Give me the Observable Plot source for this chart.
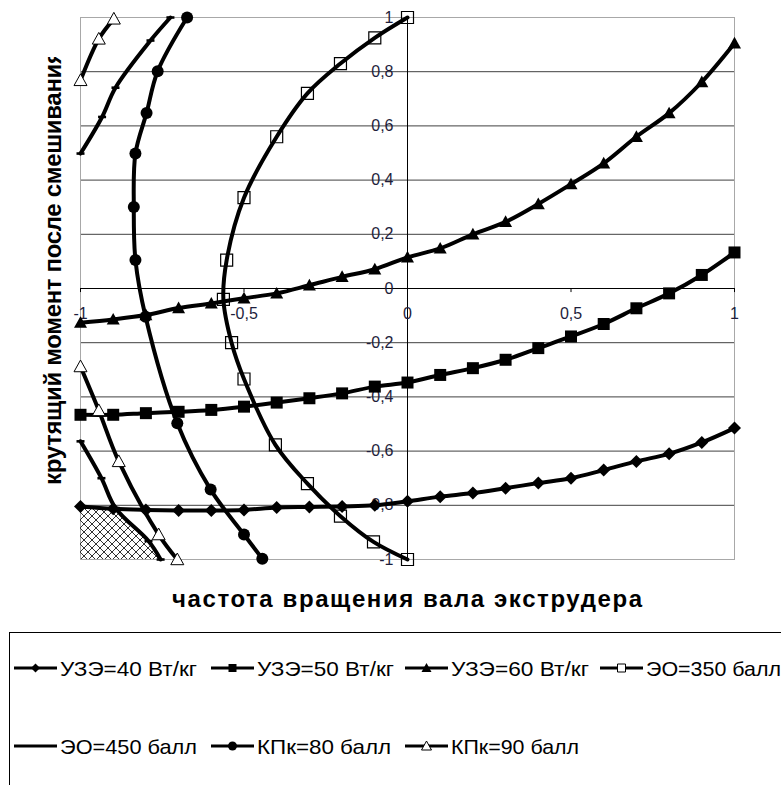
<!DOCTYPE html>
<html><head><meta charset="utf-8">
<script src="https://cdn.jsdelivr.net/npm/d3@7"></script>
<script src="https://cdn.jsdelivr.net/npm/@observablehq/plot@0.6"></script>
<style>
body{margin:0;background:#fff;}
#wrap{position:relative;width:781px;height:785px;overflow:hidden;font-family:"Liberation Sans",Arial,sans-serif;background:#fff;}
#wrap svg{position:absolute;left:0;top:0;}
</style></head><body><div id="wrap"></div>
<script>
// ---- data ----
const xValues = [-1,-0.9,-0.8,-0.7,-0.6,-0.5,-0.4,-0.3,-0.2,-0.1,0,0.1,0.2,0.3,0.4,0.5,0.6,0.7,0.8,0.9,1];
const uze40 = [-0.804,-0.813,-0.817,-0.819,-0.819,-0.817,-0.808,-0.806,-0.804,-0.800,-0.785,-0.768,-0.755,-0.737,-0.718,-0.700,-0.670,-0.638,-0.610,-0.568,-0.515];
const uze50 = [-0.466,-0.466,-0.460,-0.455,-0.448,-0.436,-0.421,-0.405,-0.387,-0.362,-0.347,-0.319,-0.294,-0.263,-0.220,-0.177,-0.131,-0.073,-0.018,0.050,0.133];
const uze60 = [-0.126,-0.114,-0.098,-0.072,-0.055,-0.036,-0.018,0.012,0.043,0.071,0.115,0.148,0.200,0.246,0.312,0.385,0.462,0.560,0.647,0.762,0.905];

const eo350X = [0,-0.1,-0.205,-0.306,-0.40,-0.50,-0.553,-0.563,-0.538,-0.50,-0.404,-0.306,-0.205,-0.104,0];
const eo350Y = [1,0.925,0.83,0.72,0.56,0.335,0.105,-0.04,-0.20,-0.334,-0.577,-0.72,-0.84,-0.935,-1];

const eo450UpX = [-0.725,-0.786,-0.893,-0.934,-1.0];
const eo450UpY = [1.0,0.915,0.741,0.633,0.498];
const eo450LoX = [-1.0,-0.936,-0.893,-0.792,-0.755];
const eo450LoY = [-0.564,-0.70,-0.81,-0.932,-1.0];

const kpk80X = [-0.674,-0.764,-0.798,-0.832,-0.837,-0.832,-0.801,-0.704,-0.602,-0.50,-0.444];
const kpk80Y = [1.0,0.802,0.648,0.498,0.301,0.105,-0.104,-0.497,-0.742,-0.908,-0.997];

const kpk90UpX = [-1.0,-0.944,-0.898];
const kpk90UpY = [0.768,0.921,0.995];
const kpk90LoX = [-1.0,-0.944,-0.883,-0.761,-0.704];
const kpk90LoY = [-0.288,-0.45,-0.638,-0.908,-1.0];

const hatchTop = -0.81;

const xTicks = [-1,-0.5,0,0.5,1];
const xTickLabels = ["-1","-0,5","0","0,5","1"];
const yTicks = [-1,-0.8,-0.6,-0.4,-0.2,0,0.2,0.4,0.6,0.8,1];
const yTickLabels = ["-1","-0,8","-0,6","-0,4","-0,2","0","0,2","0,4","0,6","0,8","1"];
const yGrid = [-0.8,-0.6,-0.4,-0.2,0.2,0.4,0.6,0.8];

const xTitle = "частота вращения вала экструдера";
const yTitle = "крутящий момент после смешивания";
const seriesNames = ["УЗЭ=40 Вт/кг","УЗЭ=50 Вт/кг","УЗЭ=60 Вт/кг","ЭО=350 балл","ЭО=450 балл","КПк=80 балл","КПк=90 балл"];

// ---- tables ----
const rowsFromY = (vals, s) => xValues.map((x,i)=>({x, y: vals[i], s}));
const rowsXY = (xs, ys, s) => xs.map((x,i)=>({x, y: ys[i], s}));
const r40 = rowsFromY(uze40, seriesNames[0]);
const r50 = rowsFromY(uze50, seriesNames[1]);
const r60 = rowsFromY(uze60, seriesNames[2]);
const r350 = rowsXY(eo350X, eo350Y, seriesNames[3]);
const r450 = [...rowsXY(eo450UpX, eo450UpY, "up"), ...rowsXY(eo450LoX, eo450LoY, "lo")];
const r80 = rowsXY(kpk80X, kpk80Y, seriesNames[5]);
const r90 = [...rowsXY(kpk90UpX, kpk90UpY, "up"), ...rowsXY(kpk90LoX, kpk90LoY, "lo")];
const hatch = rowsXY(eo450LoX, eo450LoY, "h").filter(d => d.y <= hatchTop + 1e-9);

// ---- symbols ----
const mk = f => ({draw(c, size){ const r = Math.sqrt(size/Math.PI); f(c, r); }});
const diamond = mk((c,r)=>{c.moveTo(0,-r);c.lineTo(r,0);c.lineTo(0,r);c.lineTo(-r,0);c.closePath();});
const square = mk((c,r)=>{c.moveTo(-r,-r);c.lineTo(r,-r);c.lineTo(r,r);c.lineTo(-r,r);c.closePath();});
const triangle = mk((c,r)=>{c.moveTo(0,-r);c.lineTo(r,0.8*r);c.lineTo(-r,0.8*r);c.closePath();});
const circle = mk((c,r)=>{c.moveTo(r,0);c.arc(0,0,r,0,2*Math.PI);c.closePath();});
const dash = mk((c,r)=>{c.moveTo(-r,-1.3);c.lineTo(r,-1.3);c.lineTo(r,1.3);c.lineTo(-r,1.3);c.closePath();});

const LW = 4;
const curve = "catmull-rom";
const tickFill = "#1e1e3c";

const plot = Plot.plot({
  width: 781, height: 575,
  marginLeft: 80, marginRight: 47, marginTop: 17, marginBottom: 16,
  x: {domain: [-1, 1], axis: null},
  y: {domain: [-1, 1], axis: null},
  style: {fontFamily: '"Liberation Sans", Arial, sans-serif', background: "transparent", overflow: "visible"},
  marks: [
    Plot.ruleY(yGrid, {stroke: "#404040", strokeWidth: 1}),
    Plot.frame({stroke: "#a8a8a8"}),
    Plot.ruleY([0], {stroke: "#000", strokeWidth: 1.2}),
    Plot.ruleX([0], {stroke: "#000", strokeWidth: 1}),
    Plot.ruleX(xTicks, {x: d => d, y1: 0, y2: -0.015, stroke: "#000"}),
    Plot.text(yTicks, {x: 0, y: d => d, text: (d,i) => yTickLabels[i], textAnchor: "end", dx: -14, fontSize: 16, fill: tickFill}),
    Plot.text(xTicks, {x: d => d, y: 0, text: (d,i) => xTickLabels[i], dy: 25, fontSize: 16, fill: tickFill}),
    Plot.areaX(hatch, {y: "y", x1: -1, x2: "x", fill: "url(#hatchPat)", curve}),
    Plot.line(r40, {x: "x", y: "y", stroke: "#000", strokeWidth: LW, curve}),
    Plot.line(r50, {x: "x", y: "y", stroke: "#000", strokeWidth: LW, curve}),
    Plot.line(r60, {x: "x", y: "y", stroke: "#000", strokeWidth: LW, curve}),
    Plot.line(r350, {x: "x", y: "y", stroke: "#000", strokeWidth: LW, curve}),
    Plot.line(r450, {x: "x", y: "y", z: "s", stroke: "#000", strokeWidth: LW, curve}),
    Plot.line(r80, {x: "x", y: "y", stroke: "#000", strokeWidth: LW, curve}),
    Plot.line(r90, {x: "x", y: "y", z: "s", stroke: "#000", strokeWidth: LW, curve}),
    Plot.dot(r40, {x: "x", y: "y", symbol: diamond, r: 6.5, fill: "#000", stroke: "none"}),
    Plot.dot(r50, {x: "x", y: "y", symbol: square, r: 6, fill: "#000", stroke: "none"}),
    Plot.dot(r60, {x: "x", y: "y", symbol: triangle, r: 6.5, fill: "#000", stroke: "none"}),
    Plot.dot(r350, {x: "x", y: "y", symbol: square, r: 6, fill: "none", stroke: "#000", strokeWidth: 1.2}),
    Plot.dot(r450, {x: "x", y: "y", symbol: dash, r: 4, fill: "#000", stroke: "none"}),
    Plot.dot(r80, {x: "x", y: "y", symbol: circle, r: 6, fill: "#000", stroke: "none"}),
    Plot.dot(r90, {x: "x", y: "y", symbol: triangle, r: 6.5, fill: "#fff", stroke: "#000", strokeWidth: 1})
  ]
});

// hatch pattern
const psvg = d3.select(plot);
const defs = psvg.insert("defs", ":first-child");
const pat = defs.append("pattern").attr("id", "hatchPat").attr("patternUnits", "userSpaceOnUse")
  .attr("width", 8).attr("height", 8);
pat.append("path").attr("d", "M0,0L8,8M-2,6L2,10M6,-2L10,2").attr("stroke", "#333").attr("stroke-width", 1);
pat.append("path").attr("d", "M8,0L0,8M-2,2L2,-2M6,10L10,6").attr("stroke", "#333").attr("stroke-width", 1);

const wrap = document.getElementById("wrap");
wrap.appendChild(plot);

// ---- overlay: titles and legend ----
const ov = d3.create("svg").attr("width", 781).attr("height", 785)
  .style("font-family", '"Liberation Sans", Arial, sans-serif');
ov.append("defs").append("clipPath").attr("id", "yclip")
  .append("rect").attr("x", 0).attr("y", 57).attr("width", 120).attr("height", 600);
ov.append("g").attr("clip-path", "url(#yclip)")
  .append("text").attr("transform", "translate(61,485) rotate(-90)")
  .attr("font-size", 24).attr("font-weight", "bold").attr("fill", "#000")
  .attr("textLength", 435).attr("lengthAdjust", "spacing").text(yTitle);
ov.append("text").attr("x", 407).attr("y", 607).attr("text-anchor", "middle")
  .attr("font-size", 24).attr("font-weight", "bold").attr("fill", "#000")
  .attr("textLength", 470).attr("lengthAdjust", "spacing").text(xTitle);

// legend box
ov.append("rect").attr("x", 9.5).attr("y", 632.5).attr("width", 900).attr("height", 300)
  .attr("fill", "none").attr("stroke", "#000").attr("stroke-width", 1);

const legendSpec = [
  {sym: diamond, r: 4.5, fill: "#000", stroke: "none", w: 137},
  {sym: square, r: 4, fill: "#000", stroke: "none", w: 137},
  {sym: triangle, r: 5, fill: "#000", stroke: "none", w: 138},
  {sym: square, r: 4, fill: "#fff", stroke: "#000", w: 135},
  {sym: null, w: 137},
  {sym: circle, r: 4.5, fill: "#000", stroke: "none", w: 134},
  {sym: triangle, r: 5, fill: "#fff", stroke: "#000", w: 128}
];
const colX = [14, 211, 405, 600];
const rowY = [668, 746];
seriesNames.forEach((name, i) => {
  const row = i < 4 ? 0 : 1;
  const col = i < 4 ? i : i - 4;
  const x0 = colX[col], y0 = rowY[row];
  const g = ov.append("g");
  g.append("line").attr("x1", x0).attr("x2", x0 + 43).attr("y1", y0).attr("y2", y0)
    .attr("stroke", "#000").attr("stroke-width", 3);
  const sp = legendSpec[i];
  if (sp.sym) {
    g.append("path").attr("transform", `translate(${x0 + 21.5},${y0})`)
      .attr("d", d3.symbol(sp.sym, Math.PI * sp.r * sp.r)())
      .attr("fill", sp.fill).attr("stroke", sp.stroke).attr("stroke-width", 1);
  }
  g.append("text").attr("x", x0 + 46).attr("y", y0 + 7.5)
    .attr("font-size", 21).attr("fill", "#000")
    .attr("textLength", sp.w).attr("lengthAdjust", "spacingAndGlyphs").text(name);
});

wrap.appendChild(ov.node());
</script>
</body></html>
